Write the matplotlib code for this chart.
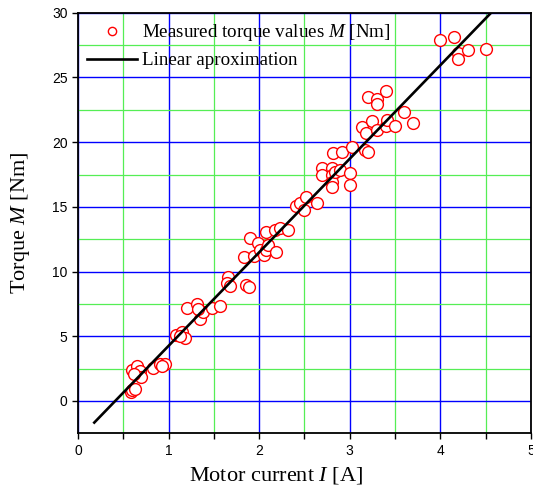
import matplotlib
matplotlib.use("Agg")
import matplotlib.pyplot as plt
from matplotlib.ticker import MultipleLocator

current = [0.58, 0.60, 0.63, 0.60, 0.65, 0.69, 0.70, 0.62, 0.83, 0.91, 0.96, 0.93,
           1.08, 1.15, 1.18, 1.13, 1.20, 1.31, 1.35, 1.38, 1.32, 1.48, 1.57,
           1.66, 1.64, 1.68, 1.86, 1.89, 1.83, 1.90, 1.94, 1.99, 2.01, 2.05, 2.08,
           2.10, 2.08, 2.19, 2.18, 2.23, 2.32, 2.41, 2.45, 2.49, 2.52, 2.64,
           2.69, 2.69, 2.80, 2.80, 2.80, 2.80, 2.84, 2.89, 3.00, 3.00, 2.82, 2.91,
           3.02, 3.17, 3.20, 3.13, 3.18, 3.25, 3.30, 3.40, 3.41, 3.50, 3.70, 3.60,
           3.20, 3.30, 3.30, 3.40, 4.00, 4.15, 4.20, 4.20, 4.30, 4.50]
torque = [0.70, 0.83, 0.96, 2.40, 2.74, 2.30, 1.86, 2.10, 2.58, 2.85, 2.84, 2.70,
          5.08, 5.30, 4.85, 5.00, 7.15, 7.50, 6.37, 6.90, 7.10, 7.20, 7.30,
          9.60, 9.15, 8.85, 8.95, 8.80, 11.14, 12.56, 11.20, 12.17, 11.65, 11.27, 11.65,
          12.04, 13.07, 11.55, 13.20, 13.33, 13.20, 15.06, 15.27, 14.75, 15.78, 15.31,
          17.97, 17.45, 18.00, 17.45, 16.90, 16.55, 17.70, 17.84, 17.58, 16.68, 19.20, 19.26,
          19.64, 19.40, 19.26, 21.14, 20.73, 21.63, 20.94, 21.25, 21.70, 21.25, 21.45, 22.30,
          23.46, 23.30, 22.92, 23.97, 27.90, 28.10, 26.87, 26.40, 27.12, 27.18]
fit_x = [0.18, 4.56]
fit_y = [-1.67, 30.0]

serif = ['Liberation Serif', 'DejaVu Serif']
sans = ['Liberation Sans', 'DejaVu Sans']
plt.rcParams['font.family'] = sans
plt.rcParams['mathtext.fontset'] = 'custom'
plt.rcParams['mathtext.it'] = 'Liberation Serif:italic'
plt.rcParams['mathtext.rm'] = 'Liberation Serif'

fig = plt.figure(figsize=(5.33, 4.91), dpi=100)
ax = fig.add_axes([0.1463, 0.1175, 0.8499, 0.8565])

ax.plot(current, torque, linestyle='none', marker='o', markersize=8.5,
        markerfacecolor='white', markeredgecolor='#ff0000', markeredgewidth=1.0,
        label='Measured torque values $M$ [Nm]', zorder=3)
ax.plot(fit_x, fit_y, color='black', linewidth=1.9, label='Linear aproximation',
        zorder=4)

ax.set_xlim(0, 5)
ax.set_ylim(-2.5, 30)
ax.xaxis.set_major_locator(MultipleLocator(1))
ax.xaxis.set_minor_locator(MultipleLocator(0.5))
ax.yaxis.set_major_locator(MultipleLocator(5))
ax.yaxis.set_minor_locator(MultipleLocator(2.5))

ax.grid(which='major', color='#0000ff', linewidth=1.0, zorder=1)
ax.grid(which='minor', color='#55ee55', linewidth=0.9, zorder=0)
ax.set_axisbelow(True)

ax.tick_params(axis='both', which='major', direction='out', length=4, width=1,
               labelsize=10)
ax.tick_params(axis='x', which='minor', direction='out', length=4, width=1)
ax.tick_params(axis='y', which='minor', length=0)
for s in ax.spines.values():
    s.set_linewidth(1.3)

ax.set_xlabel('Motor current $I$ [A]', fontsize=16, family=serif, labelpad=5,
              x=0.437)
ax.set_ylabel('Torque $M$ [Nm]', fontsize=16, family=serif, labelpad=14)

leg = ax.legend(loc='upper left', frameon=False, prop={'family': serif, 'size': 13.7},
                handlelength=2.6, borderaxespad=0.0, borderpad=0.5,
                labelspacing=0.45, handletextpad=0.25, markerscale=0.7)

fig.savefig('out.png', dpi=100)
